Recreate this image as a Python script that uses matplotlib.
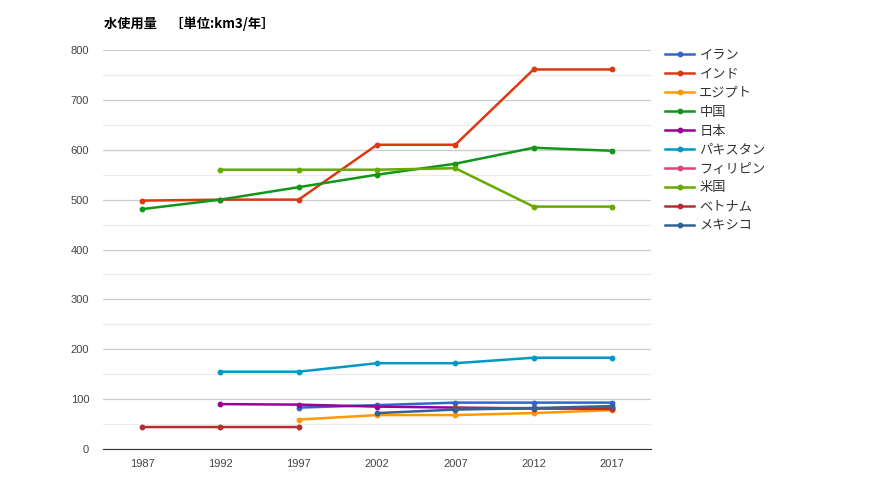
import numpy as np
import matplotlib
matplotlib.use("Agg")
import matplotlib.pyplot as plt
from matplotlib.ticker import MultipleLocator

plt.rcParams['font.family'] = ['Noto Sans CJK JP', 'DejaVu Sans']

# data (km3/year), None = no value
years = ['1987', '1992', '1997', '2002', '2007', '2012', '2017']
countries = ['イラン', 'インド', 'エジプト', '中国', '日本', 'パキスタン',
             'フィリピン', '米国', 'ベトナム', 'メキシコ']
iran = [None, None, 83, 88, 93, 93, 93]
india = [498, 500, 500, 610, 610, 761, 761]
egypt = [None, None, 59, 68, 68, 72, 78]
china = [481, 500, 525, 550, 572, 604, 598]
japan = [None, 90, 89, 85, 83, 81, 82]
pakistan = [None, 155, 155, 172, 172, 183, 183]
philippines = [None, None, None, None, 82, 82, 82]
usa = [None, 560, 560, 560, 563, 486, 486]
vietnam = [44, 44, 44, None, 82, 82, 80]
mexico = [None, None, None, 72, 79, 82, 86]
series = [iran, india, egypt, china, japan, pakistan, philippines, usa, vietnam, mexico]

colors = ['#3366cc', '#dc3912', '#ff9900', '#109618', '#990099',
          '#0099c6', '#dd4477', '#66aa00', '#b82e2e', '#316395']

fig = plt.figure(figsize=(8.7, 5), dpi=100)
ax = fig.add_axes([103 / 870, 1 - 449 / 500, 548 / 870, 399 / 500])

x = np.arange(len(years))
for name, vals, c in zip(countries, series, colors):
    y = np.array([np.nan if v is None else v for v in vals], dtype=float)
    ax.plot(x, y, color=c, lw=1.8, marker='o', ms=3.2, label=name)

ax.set_xlim(-0.5, len(years) - 0.5)
ax.set_ylim(0, 800)
ax.set_xticks(x)
ax.set_xticklabels(years)
ax.yaxis.set_major_locator(MultipleLocator(100))
ax.yaxis.set_minor_locator(MultipleLocator(50))
ax.grid(axis='y', which='major', color='#cccccc', lw=0.9)
ax.grid(axis='y', which='minor', color='#ebebeb', lw=0.9)
ax.set_axisbelow(True)
for s in ['top', 'right', 'left']:
    ax.spines[s].set_visible(False)
ax.spines['bottom'].set_color('#333333')
ax.tick_params(axis='both', which='both', length=0, labelsize=8, colors='#444444')
ax.tick_params(axis='y', pad=10)
ax.tick_params(axis='x', pad=7)
for lbl in ax.get_xticklabels() + ax.get_yticklabels():
    lbl.set_fontfamily(['Liberation Sans', 'DejaVu Sans'])

fig.text(104 / 870, 1 - 24 / 500, '水使用量　［単位:km3/年］', fontsize=9.5,
         fontweight='bold', va='center', ha='left', color='#000000')

leg = ax.legend(loc='upper left', bbox_to_anchor=(1.016, 1.016), frameon=False,
                fontsize=9.5, handlelength=2.2, labelspacing=0.45,
                handletextpad=0.4, borderaxespad=0)
for t in leg.get_texts():
    t.set_color('#333333')

fig.savefig('out.png', dpi=100)
